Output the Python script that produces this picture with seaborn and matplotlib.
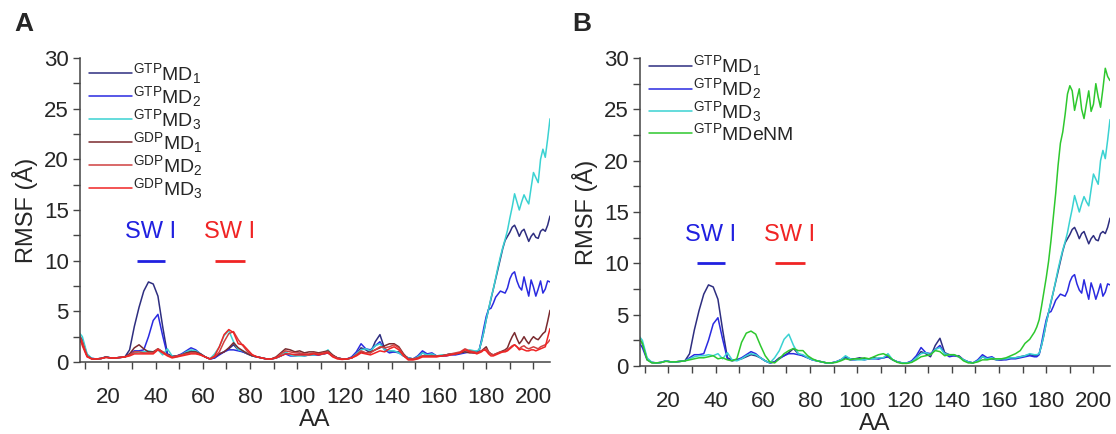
import matplotlib
matplotlib.use("Agg")
import matplotlib.pyplot as plt
from matplotlib.ticker import MultipleLocator
import pandas as pd
import seaborn as sns

# residue index: every other residue up to 175, then every residue in the C-terminal tail
residues = list(range(7, 176, 2)) + list(range(176, 208))

gtp_md1 = [
    2.8, 2.2, 0.7, 0.35, 0.3, 0.35, 0.5, 0.4, 0.4, 0.45,
    0.5, 1.2, 3.5, 5.4, 7.0, 7.9, 7.7, 6.5, 3.5, 0.8,
    0.6, 0.6, 0.7, 0.9, 1.1, 1.0, 0.8, 0.5, 0.3, 0.4,
    0.8, 1.0, 1.3, 1.7, 1.2, 1.0, 0.8, 0.6, 0.5, 0.4,
    0.3, 0.3, 0.4, 0.6, 0.9, 0.7, 0.7, 0.8, 0.7, 0.7,
    0.8, 0.7, 0.8, 0.9, 0.6, 0.4, 0.3, 0.3, 0.4, 0.8,
    1.4, 1.2, 0.9, 2.0, 2.7, 1.3, 1.1, 1.0, 1.0, 0.6,
    0.4, 0.3, 0.5, 0.9, 0.7, 0.7, 0.6, 0.6, 0.7, 0.8,
    0.8, 0.9, 1.0, 1.1, 1.0,
    1.0, 1.2, 2.0, 3.0, 4.2, 5.2, 6.2, 7.2, 8.2, 9.2,
    10.2, 11.2, 12.0, 12.4, 12.8, 13.3, 13.5, 13.0, 12.4, 12.9,
    13.1, 12.5, 11.9, 12.4, 12.7, 12.3, 12.2, 12.9, 13.1, 12.9,
    13.5, 14.4,
]
gtp_md2 = [
    2.5, 1.8, 0.6, 0.35, 0.3, 0.35, 0.5, 0.4, 0.4, 0.45,
    0.5, 0.8, 1.1, 1.1, 1.2, 2.5, 4.1, 4.7, 2.6, 0.7,
    0.5, 0.6, 0.8, 1.1, 1.4, 1.2, 0.8, 0.5, 0.3, 0.4,
    0.7, 1.0, 1.2, 1.2, 1.1, 1.0, 0.8, 0.6, 0.5, 0.4,
    0.3, 0.3, 0.4, 0.6, 0.8, 0.6, 0.6, 0.7, 0.6, 0.7,
    0.7, 0.7, 0.8, 0.9, 0.6, 0.4, 0.3, 0.3, 0.5, 1.0,
    1.8, 1.3, 1.2, 1.6, 2.0, 1.2, 0.9, 1.0, 0.9, 0.6,
    0.4, 0.3, 0.6, 1.1, 0.8, 0.9, 0.6, 0.6, 0.6, 0.7,
    0.7, 0.8, 0.9, 1.0, 0.9,
    0.9, 1.1, 2.2, 3.4, 4.5, 5.2, 5.3, 5.8, 6.4, 6.7,
    7.0, 6.9, 6.8, 7.3, 8.2, 8.7, 8.9, 8.0, 7.4, 7.1,
    8.4, 7.4, 6.5, 8.1, 7.4, 6.5, 7.2, 8.0, 6.8, 7.2,
    8.0, 7.9,
]
gtp_md3 = [
    3.1, 2.5, 0.8, 0.35, 0.3, 0.35, 0.5, 0.4, 0.4, 0.45,
    0.5, 0.7, 0.9, 1.0, 1.0, 1.1, 1.0, 1.2, 0.7, 1.3,
    0.6, 0.5, 0.7, 1.0, 1.2, 1.1, 0.8, 0.5, 0.3, 0.8,
    1.5, 2.6, 3.1, 2.0, 1.2, 1.1, 0.8, 0.6, 0.5, 0.4,
    0.3, 0.3, 0.4, 0.6, 1.0, 0.7, 0.6, 0.6, 0.6, 0.7,
    0.7, 0.8, 0.8, 1.2, 0.6, 0.4, 0.3, 0.3, 0.4, 0.8,
    1.2, 1.3, 1.1, 1.6, 1.8, 1.2, 1.1, 1.1, 0.9, 0.6,
    0.4, 0.3, 0.5, 0.9, 0.7, 0.8, 0.6, 0.7, 0.7, 0.8,
    0.8, 0.9, 1.0, 1.2, 1.1,
    1.1, 1.2, 2.0, 3.0, 4.2, 5.2, 6.3, 7.2, 8.3, 9.4,
    10.4, 11.3, 12.1, 13.0, 14.2, 15.3, 16.6, 15.8, 15.0, 15.8,
    16.5, 16.0, 15.6, 17.2, 18.7, 18.2, 17.7, 20.0, 21.0, 20.2,
    22.0, 24.0,
]
gdp_md1 = [
    2.6, 1.8, 0.6, 0.3, 0.3, 0.35, 0.5, 0.4, 0.4, 0.45,
    0.5, 0.8, 1.4, 1.7, 1.3, 1.0, 1.0, 1.3, 1.0, 0.7,
    0.5, 0.6, 0.7, 0.9, 1.0, 1.0, 0.8, 0.5, 0.3, 0.5,
    0.8, 1.0, 1.4, 1.9, 1.4, 1.1, 0.8, 0.6, 0.5, 0.4,
    0.3, 0.3, 0.5, 0.9, 1.3, 1.2, 1.0, 1.1, 0.9, 1.0,
    1.0, 0.9, 1.0, 1.1, 0.7, 0.4, 0.3, 0.3, 0.4, 0.7,
    1.0, 0.9, 1.0, 1.2, 1.4, 1.6, 1.8, 1.8, 1.5, 0.8,
    0.3, 0.3, 0.4, 0.6, 0.6, 0.6, 0.6, 0.6, 0.7, 0.8,
    0.8, 0.9, 1.0, 0.9, 0.9,
    0.9, 1.0, 1.1, 1.3, 1.5, 1.0, 0.8, 0.7, 0.8, 0.9,
    1.0, 1.1, 1.2, 1.4, 2.0, 2.5, 2.9, 2.3, 1.8, 2.1,
    2.5, 2.1, 1.8, 2.2, 2.5, 2.3, 2.2, 2.5, 2.8, 3.0,
    4.0, 5.1,
]
gdp_md2 = [
    3.0, 2.0, 0.6, 0.3, 0.3, 0.35, 0.45, 0.4, 0.4, 0.45,
    0.5, 0.7, 1.0, 1.0, 0.9, 0.9, 0.9, 1.3, 1.0, 0.7,
    0.5, 0.6, 0.7, 0.8, 0.9, 0.9, 0.7, 0.5, 0.3, 0.5,
    1.0, 2.0, 2.8, 3.0, 2.2, 1.6, 1.0, 0.7, 0.5, 0.4,
    0.3, 0.3, 0.4, 0.8, 1.1, 1.0, 0.9, 0.9, 0.8, 0.8,
    0.9, 0.8, 0.9, 1.0, 0.6, 0.4, 0.3, 0.3, 0.4, 0.7,
    1.1, 0.9, 0.9, 1.2, 1.5, 1.4, 1.5, 1.7, 1.4, 0.7,
    0.3, 0.3, 0.4, 0.6, 0.6, 0.6, 0.6, 0.6, 0.7, 0.8,
    0.9, 1.0, 1.3, 1.1, 1.0,
    0.9, 1.0, 1.1, 1.2, 1.3, 1.0, 0.8, 0.7, 0.8, 0.9,
    1.0, 1.0, 1.1, 1.2, 1.4, 1.6, 1.7, 1.5, 1.3, 1.5,
    1.6, 1.4, 1.3, 1.4, 1.5, 1.4, 1.3, 1.5, 1.6, 1.7,
    1.9, 2.2,
]
gdp_md3 = [
    3.3, 1.6, 0.5, 0.3, 0.3, 0.35, 0.45, 0.4, 0.4, 0.45,
    0.5, 0.6, 0.8, 0.8, 0.8, 0.8, 0.8, 1.2, 0.9, 0.6,
    0.4, 0.5, 0.6, 0.7, 0.8, 0.8, 0.7, 0.5, 0.3, 0.6,
    1.5, 2.7, 3.2, 2.9, 1.8, 1.7, 1.2, 0.7, 0.5, 0.4,
    0.3, 0.3, 0.4, 0.6, 0.8, 0.8, 0.7, 0.7, 0.7, 0.7,
    0.8, 0.7, 0.8, 0.9, 0.5, 0.3, 0.25, 0.3, 0.4, 0.6,
    0.9, 0.8, 0.7, 0.9, 1.1, 1.0, 1.3, 1.5, 1.2, 0.6,
    0.2, 0.2, 0.3, 0.5, 0.5, 0.5, 0.5, 0.6, 0.6, 0.7,
    0.8, 0.9, 1.2, 1.0, 0.9,
    0.8, 0.9, 1.0, 1.2, 1.1, 0.8, 0.6, 0.6, 0.7, 0.8,
    0.9, 1.0, 1.0, 1.1, 1.3, 1.5, 1.7, 1.5, 1.2, 1.3,
    1.2, 1.1, 1.1, 1.2, 1.2, 1.1, 1.2, 1.3, 1.4, 1.5,
    2.4, 3.3,
]
gtp_mdenm = [
    3.0, 2.2, 0.6, 0.3, 0.3, 0.35, 0.45, 0.4, 0.4, 0.45,
    0.5, 0.6, 0.7, 0.8, 0.8, 0.9, 1.0, 0.7, 0.8, 0.6,
    0.5, 0.7, 2.3, 3.2, 3.4, 3.1, 2.0, 1.0, 0.4, 0.3,
    0.7, 1.2, 1.5, 1.7, 1.5, 1.5, 1.0, 0.7, 0.5, 0.4,
    0.3, 0.3, 0.35, 0.5, 0.7, 0.6, 0.7, 0.7, 0.8, 0.7,
    0.9, 1.1, 1.2, 1.0, 0.6, 0.35, 0.25, 0.25, 0.35, 0.6,
    0.9, 1.0, 1.1, 1.5, 1.4, 1.0, 1.1, 1.1, 0.9, 0.5,
    0.3, 0.3, 0.4, 0.6, 0.6, 0.7, 0.7, 0.7, 0.8, 1.0,
    1.2, 1.5, 2.2, 2.6, 3.3,
    3.8, 4.5, 5.8, 7.2, 8.6, 10.2, 12.2, 14.5, 16.8, 19.5,
    21.7, 22.8, 24.5, 26.5, 27.3, 26.8, 24.9, 26.0, 27.0, 25.0,
    24.1, 25.5, 26.8, 24.8, 25.5, 27.5, 26.2, 25.2, 27.0, 29.0,
    28.2, 27.8,
]

labels = {
    "gtp1": r"$^{\mathregular{GTP}}$MD$_{\mathregular{1}}$",
    "gtp2": r"$^{\mathregular{GTP}}$MD$_{\mathregular{2}}$",
    "gtp3": r"$^{\mathregular{GTP}}$MD$_{\mathregular{3}}$",
    "gdp1": r"$^{\mathregular{GDP}}$MD$_{\mathregular{1}}$",
    "gdp2": r"$^{\mathregular{GDP}}$MD$_{\mathregular{2}}$",
    "gdp3": r"$^{\mathregular{GDP}}$MD$_{\mathregular{3}}$",
    "denm": r"$^{\mathregular{GTP}}$MDeNM",
}
colors = {
    "gtp1": "#2e2e80", "gtp2": "#2a2ae0", "gtp3": "#3ad2d2",
    "gdp1": "#7a2a2e", "gdp2": "#d04040", "gdp3": "#f02424",
    "denm": "#2ec82e",
}

# switch I annotation: residue span and RMSF level
sw_text = "SW I"
sw_blue_span = [32, 44]
sw_red_span = [65, 78]
sw_bar_level = 10.0
sw_text_level = 12.8

sns.set_style("ticks")
plt.rcParams["font.family"] = ["Liberation Sans", "DejaVu Sans"]
plt.rcParams["mathtext.fontset"] = "custom"
plt.rcParams["mathtext.rm"] = "Liberation Sans"
plt.rcParams["mathtext.it"] = "Liberation Sans:italic"
plt.rcParams["mathtext.bf"] = "Liberation Sans:bold"

W, H = 1116, 434
fig = plt.figure(figsize=(W / 100, H / 100), dpi=100)
axA = fig.add_axes([80 / W, 1 - 362 / H, 470 / W, 304 / H])
axB = fig.add_axes([640 / W, 1 - 366 / H, 470 / W, 308 / H])

series = {"gtp1": gtp_md1, "gtp2": gtp_md2, "gtp3": gtp_md3,
          "gdp1": gdp_md1, "gdp2": gdp_md2, "gdp3": gdp_md3, "denm": gtp_mdenm}

panelA = ["gtp1", "gtp2", "gtp3", "gdp1", "gdp2", "gdp3"]
panelB = ["gtp1", "gtp2", "gtp3", "denm"]

spine_col = "#444444"
for ax, keys, leg_y in [(axA, panelA, 0.99), (axB, panelB, 1.015)]:
    for k in keys:
        df = pd.DataFrame({"AA": residues, "RMSF": series[k]})
        sns.lineplot(data=df, x="AA", y="RMSF", ax=ax, color=colors[k],
                     lw=1.1, label=labels[k], sort=False, estimator=None)
    ax.set_xlim(8, 207)
    ax.set_ylim(0, 30)
    ax.xaxis.set_major_locator(MultipleLocator(20))
    ax.xaxis.set_minor_locator(MultipleLocator(10))
    ax.yaxis.set_major_locator(MultipleLocator(5))
    ax.yaxis.set_minor_locator(MultipleLocator(2.5))
    ax.tick_params(axis="both", which="both", direction="out", length=5,
                   width=1.0, color=spine_col, labelsize=16)
    ax.tick_params(axis="x", which="both", pad=13)
    ax.tick_params(axis="y", which="both", pad=3)
    sns.despine(ax=ax)
    for s in ("left", "bottom"):
        ax.spines[s].set_color(spine_col)
        ax.spines[s].set_linewidth(1.1)
    ax.set_xlabel("AA", fontsize=17, labelpad=1)
    ax.set_ylabel("RMSF (Å)", fontsize=17, labelpad=4)

    ax.hlines(sw_bar_level, sw_blue_span[0], sw_blue_span[1], color="#2020e0", lw=2)
    ax.hlines(sw_bar_level, sw_red_span[0], sw_red_span[1], color="#f02424", lw=2)
    ax.text(sum(sw_blue_span) / 2, sw_text_level, sw_text, color="#2020e0",
            fontsize=17, ha="center", va="center")
    ax.text(sum(sw_red_span) / 2, sw_text_level, sw_text, color="#f02424",
            fontsize=17, ha="center", va="center")

    ax.legend(loc="upper left", bbox_to_anchor=(0.02, leg_y), frameon=False,
              fontsize=14, handlelength=2.2, handletextpad=0.05,
              labelspacing=-0.1, borderaxespad=0, borderpad=0)

fig.text(14 / W, 1 - 24 / H, "A", fontsize=19, fontweight="bold", va="center")
fig.text(572 / W, 1 - 24 / H, "B", fontsize=19, fontweight="bold", va="center")

fig.savefig("out.png", dpi=100)
